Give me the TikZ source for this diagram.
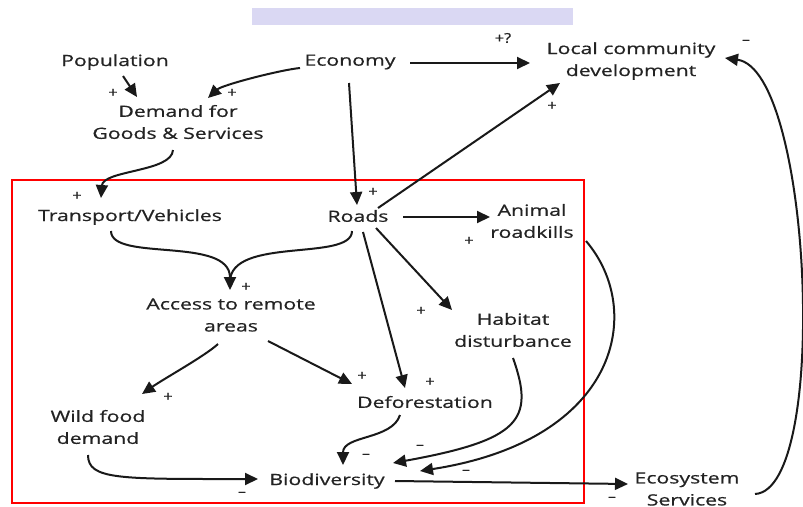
\documentclass[tikz,border=0pt]{standalone}
\usepackage{fontspec}
\setmainfont{Open Sans}[FakeBold=0.6]
\usetikzlibrary{arrows.meta}
\definecolor{lav}{RGB}{218,216,243}
\definecolor{txt}{RGB}{35,35,35}
\begin{document}
\begin{tikzpicture}[x=1pt,y=-1pt,
  lbl/.style={font=\fontsize{15.5}{22}\selectfont, align=center, inner sep=0pt, text=txt, xscale=1.37},
  sgn/.style={font=\fontsize{13.5}{14}\selectfont, inner sep=0pt, text=txt, xscale=1.2},
  arr/.style={line width=2pt, draw=black!90, -{Triangle[length=13pt,width=12pt]}},
  lin/.style={line width=2pt, draw=black!90}]
\useasboundingbox (0,0) rectangle (803,506);
\fill[lav] (252,8) rectangle (573,25);
\draw[red, line width=2.2pt] (12,180) rectangle (584,503);

\node[lbl] (pop) at (115,62) {Population};
\node[lbl] (eco) at (350,62) {Economy};
\node[lbl] (loc) at (631,61) {Local community\\development};
\node[lbl] (dem) at (178,122) {Demand for\\Goods \& Services};
\node[lbl] (tra) at (130,217) {Transport/Vehicles};
\node[lbl] (roa) at (358,216) {Roads};
\node[lbl] (ani) at (532,221) {Animal\\roadkills};
\node[lbl] (acc) at (231,315) {Access to remote\\areas};
\node[lbl] (hab) at (513,330) {Habitat\\disturbance};
\node[lbl] (wil) at (98,427) {Wild food\\demand};
\node[lbl] (def) at (425,402) {Deforestation};
\node[lbl] (bio) at (327,481) {Biodiversity};
\node[lbl] (ecs) at (687,489) {Ecosystem\\Services};

% connectors
\draw[arr] ([shift={(8,14)}]pop.center) -- ([shift={(-41,-25)}]dem.center);
\draw[arr] ([shift={(-50,6)}]eco.center) .. controls (280,70) and (222,85) .. ([shift={(30,-24)}]dem.center);
\draw[arr] ([shift={(60,1)}]eco.center) -- ([shift={(-101,2)}]loc.center);
\draw[arr] ([shift={(-1,21)}]eco.center) -- ([shift={(-1,-11)}]roa.center);
\draw[arr] ([shift={(-5,28)}]dem.center) .. controls (172,172) and (103,170) .. ([shift={(-29,-19)}]tra.center);
\draw[arr] ([shift={(20,-8)}]roa.center) -- ([shift={(-71,22)}]loc.center);
\draw[arr] ([shift={(45,1)}]roa.center) -- ([shift={(-42,-4)}]ani.center);
\draw[lin, shorten >=8pt] ([shift={(-6,15)}]roa.center) .. controls (352,262) and (230,236) .. ([shift={(-1,-25)}]acc.center);
\draw[arr] ([shift={(-19,14)}]tra.center) .. controls (111,262) and (230,236) .. ([shift={(-1,-25)}]acc.center);
\draw[arr] ([shift={(18,12)}]roa.center) -- ([shift={(-61,-20)}]hab.center);
\draw[arr] ([shift={(5,16)}]roa.center) -- ([shift={(-20,-14)}]def.center);
\draw[arr] ([shift={(-13,29)}]acc.center) .. controls (205,356) and (165,378) .. ([shift={(44,-33)}]wil.center);
\draw[arr] ([shift={(37,26)}]acc.center) -- ([shift={(-73,-18)}]def.center);
\draw[arr] ([shift={(54,20)}]ani.center) .. controls (645,310) and (620,440) .. ([shift={(93,-10)}]bio.center);
\draw[arr] ([shift={(0,28)}]hab.center) .. controls (535,420) and (520,440) .. ([shift={(66,-18)}]bio.center);
\draw[arr] ([shift={(-25,13)}]def.center) .. controls (392,440) and (343,435) .. ([shift={(16,-16)}]bio.center);
\draw[arr] ([shift={(-10,28)}]wil.center) .. controls (88,480) and (120,479) .. ([shift={(-69,-2)}]bio.center);
\draw[arr] ([shift={(68,0)}]bio.center) -- ([shift={(-59,-5)}]ecs.center);
\draw[arr] ([shift={(68,5)}]ecs.center) .. controls (830,490) and (812,70) .. ([shift={(94,-3)}]loc.center);

% polarity signs
\node[sgn] (s1) at (113,93) {+};
\node[sgn] (s2) at (232,93) {+};
\node[sgn] (s3) at (503,38) {+?};
\node[sgn] (s4) at (373,192) {+};
\node[sgn] (s5) at (77,196) {+};
\node[sgn] (s6) at (552,106) {+};
\node[sgn] (s7) at (469,241) {+};
\node[sgn] (s8) at (246,287) {+};
\node[sgn] (s9) at (421,311) {+};
\node[sgn] (s10) at (362,376) {+};
\node[sgn] (s11) at (430,382) {+};
\node[sgn] (s12) at (168,397) {+};
\node[sgn] (m1) at (366,456) {\textendash};
\node[sgn] (m2) at (420,447) {\textendash};
\node[sgn] (m3) at (466,472) {\textendash};
\node[sgn] (m4) at (242,494) {\textendash};
\node[sgn] (m5) at (612,499) {\textendash};
\node[sgn] (m6) at (746,42) {\textendash};
\end{tikzpicture}
\end{document}
